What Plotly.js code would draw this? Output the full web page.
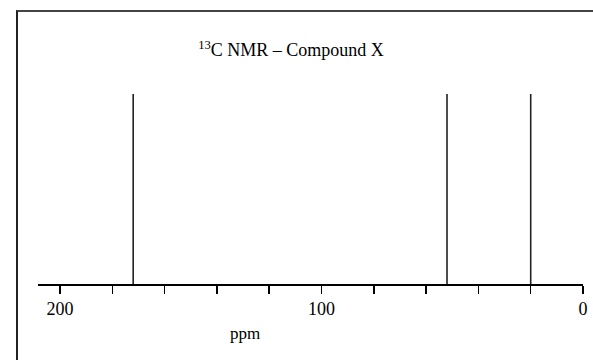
<!DOCTYPE html>
<html>
<head>
<meta charset="utf-8">
<script src="https://cdn.plot.ly/plotly-3.0.1.min.js"></script>
<style>
html,body{margin:0;padding:0;background:#fff;overflow:hidden;}
#frame{position:absolute;left:16px;top:10px;width:700px;height:500px;border-left:2px solid #222;border-top:2px solid #444;pointer-events:none;z-index:5;}
#chart{width:593px;height:360px;}
</style>
</head>
<body>
<div id="chart"></div>
<div id="frame"></div>
<script>
// Peak shifts (ppm) and relative intensities
const shifts = [172, 52, 20];
const intensities = [1, 1, 1];
// Axis ticks
const tickValues = [200, 180, 160, 140, 120, 100, 80, 60, 40, 20, 0];
const tickLabels = ['200', '', '', '', '', '100', '', '', '', '', '0'];
const xRange = [208.4, 0];

const xs = [], ys = [];
shifts.forEach((s, i) => { xs.push(s, s, null); ys.push(0, intensities[i], null); });

const W = 593, H = 360;
const m = {l: 38, r: 10, t: 94, b: 76};
const FAM = 'Liberation Serif';
const font = {family: FAM, size: 17, color: '#000'};
const titleFont = {family: FAM, size: 18, color: '#000'};

const trace = {
  x: xs, y: ys, type: 'scatter', mode: 'lines',
  line: {color: '#222', width: 1.6}, hoverinfo: 'skip', showlegend: false
};

const layout = {
  width: W, height: H, margin: m,
  paper_bgcolor: '#fff', plot_bgcolor: '#fff',
  font: font,
  title: {text: '<sup>13</sup>C NMR – Compound X', font: titleFont,
          x: (291 - m.l) / (W - m.l - m.r), xref: 'paper', xanchor: 'center',
          y: 1 - 50 / H, yref: 'container', yanchor: 'middle'},
  xaxis: {range: xRange, tickmode: 'array', tickvals: tickValues, ticktext: tickLabels,
          ticks: 'outside', ticklen: 8, tickwidth: 1.5, tickcolor: '#000',
          showline: true, linecolor: '#000', linewidth: 1.5,
          showgrid: false, zeroline: false,
          tickfont: {family: FAM, size: 18, color: '#000'}, fixedrange: true},
  yaxis: {range: [0, 1], visible: false, showgrid: false, zeroline: false, fixedrange: true},
  annotations: [{text: 'ppm', xref: 'paper', yref: 'paper',
                 x: (245 - m.l) / (W - m.l - m.r), y: -(333 - (H - m.b)) / (H - m.t - m.b),
                 xanchor: 'center', yanchor: 'middle', showarrow: false, font: font}]
};

Plotly.newPlot('chart', [trace], layout, {displayModeBar: false, staticPlot: true});
</script>
</body>
</html>
